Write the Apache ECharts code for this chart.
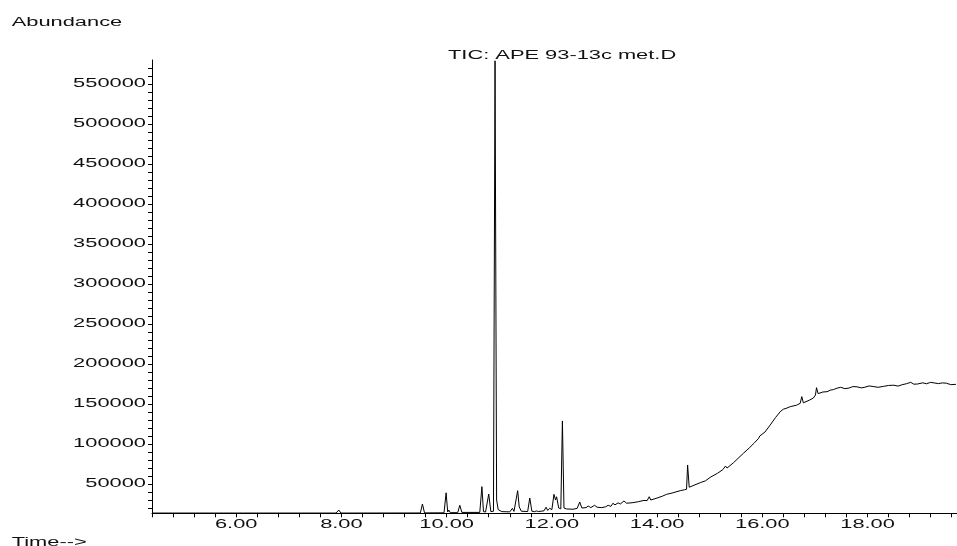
<!DOCTYPE html>
<html>
<head>
<meta charset="utf-8">
<title>TIC: APE 93-13c met.D</title>
<script src="https://cdn.jsdelivr.net/npm/echarts@6/dist/echarts.min.js"></script>
<style>
  html, body { margin: 0; padding: 0; background: #fff; }
  #chart { width: 957px; height: 546px; }
</style>
</head>
<body>
<div id="chart"></div>
<script>
// Total ion chromatogram: retention time (min) vs. abundance
const retentionTimes = [
  4.40, 7.90, 7.95, 7.99, 9.50, 9.54, 9.58, 9.95, 9.99, 10.02, 10.04, 10.07,
  10.21, 10.25, 10.29, 10.63, 10.67, 10.70, 10.74, 10.80, 10.84, 10.89, 10.92, 10.95,
  10.98, 11.05, 11.20, 11.25, 11.28, 11.35, 11.38, 11.42, 11.54, 11.58, 11.62, 11.67,
  11.71, 11.75, 11.85, 11.89, 11.92, 11.96, 12.00, 12.04, 12.07, 12.09, 12.13, 12.17,
  12.20, 12.23, 12.28, 12.40, 12.48, 12.53, 12.57, 12.65, 12.69, 12.74, 12.81, 12.86,
  12.95, 13.02, 13.07, 13.12, 13.16, 13.20, 13.26, 13.30, 13.37, 13.42, 13.54, 13.65,
  13.75, 13.81, 13.85, 13.88, 14.00, 14.10, 14.18, 14.30, 14.44, 14.52, 14.56, 14.58, 14.61,
  14.63, 14.82, 14.92, 15.01, 15.15, 15.25, 15.30, 15.33, 15.45, 15.52, 15.64, 15.75, 15.85,
  15.93, 15.95, 15.98, 16.05, 16.15, 16.25, 16.34, 16.40, 16.45, 16.53, 16.65, 16.72, 16.75,
  16.78, 16.90, 16.97, 17.01, 17.03, 17.06, 17.15, 17.23, 17.30, 17.35, 17.42, 17.49, 17.57, 17.65,
  17.72, 17.80, 17.88, 17.95, 18.03, 18.12, 18.20, 18.30, 18.40, 18.50, 18.58, 18.65, 18.74,
  18.82, 18.88, 18.95, 19.05, 19.12, 19.20, 19.28, 19.35, 19.42, 19.50, 19.58, 19.68
];
const abundance = [
  13700, 13700, 17500, 13700, 13800, 25000, 13900, 14000, 39000, 15000, 17500, 14200,
  14200, 23400, 14500, 14500, 46700, 15500, 15000, 37500, 15500, 16000, 579000, 30000,
  18000, 15500, 15200, 19600, 15800, 41700, 21300, 16000, 15600, 32500, 16000, 15500,
  16300, 15600, 16500, 21000, 17000, 19600, 18000, 37100, 30000, 34100, 20000, 19000,
  128800, 20000, 18800, 18500, 19500, 27500, 20000, 20500, 22500, 20500, 23400, 21000,
  20500, 21500, 23400, 22000, 25900, 24000, 26500, 25000, 28800, 26000, 26700, 28000,
  29500, 29200, 34100, 30000, 32500, 34800, 37100, 39000, 41700, 42800, 43400, 73800, 46000,
  45900, 51700, 54000, 58400, 63500, 68000, 72500, 70000, 76500, 80900, 88400, 95000, 101500,
  107100, 110000, 107800, 115000, 123800, 133000, 140400, 143500, 144500, 146700, 148500, 150900, 159200,
  151500, 155000, 157500, 161300, 170400, 163000, 165000, 165400, 167500, 168000, 169800, 170900, 169200, 170000,
  171800, 171500, 170200, 171000, 172600, 171700, 170900, 172000, 173200, 173500, 172400, 174000, 175400,
  177100, 174800, 175000, 176500, 175300, 177100, 176200, 175500, 176400, 176000, 174200, 174600
];

// Labelled ticks
const timeLabels = [6, 8, 10, 12, 14, 16, 18];
const abundanceLabels = [50000, 100000, 150000, 200000, 250000, 300000, 350000, 400000, 450000, 500000, 550000];

// Unlabelled tick marks: every 0.4 min and every 10000 counts
const timeTicks = [];
for (let i = 11; i <= 49; i++) timeTicks.push(+(i * 0.4).toFixed(1));
const abundanceTicks = [];
for (let v = 20000; v <= 570000; v += 10000) abundanceTicks.push(v);

const FONT = '"Liberation Sans", Arial, sans-serif';
const TEXT_STRETCH = 1.82;

const chart = echarts.init(document.getElementById('chart'), null, { renderer: 'canvas' });

chart.setOption({
  animation: false,
  backgroundColor: '#fff',
  grid: { left: 152, right: 0, top: 60, bottom: 32.7, containLabel: false },
  xAxis: {
    type: 'value',
    min: 4.4,
    max: 19.70,
    axisLine: { show: true, lineStyle: { color: '#000', width: 1 } },
    axisTick: { show: true, length: 4, customValues: timeTicks, lineStyle: { color: '#000' } },
    axisLabel: {
      customValues: timeLabels,
      margin: 5,
      color: '#111',
      fontFamily: FONT,
      fontSize: 12,
      formatter: v => v.toFixed(2)
    },
    splitLine: { show: false }
  },
  yAxis: {
    type: 'value',
    min: 13400,
    max: 580000,
    axisLine: { show: true, lineStyle: { color: '#000', width: 1 } },
    axisTick: { show: true, length: 4, customValues: abundanceTicks, lineStyle: { color: '#000' } },
    axisLabel: {
      customValues: abundanceLabels,
      margin: 6,
      color: '#111',
      fontFamily: FONT,
      fontSize: 12,
      formatter: v => String(v)
    },
    splitLine: { show: false }
  },
  graphic: [
    { type: 'text', x: 448, y: 50, style: { text: 'TIC: APE 93-13c met.D', fill: '#111', font: '12px ' + FONT, align: 'left', verticalAlign: 'top' } },
    { type: 'text', x: 11.7, y: 17, style: { text: 'Abundance', fill: '#111', font: '12px ' + FONT, align: 'left', verticalAlign: 'top' } },
    { type: 'text', x: 11.7, y: 536.5, style: { text: 'Time-->', fill: '#111', font: '12px ' + FONT, align: 'left', verticalAlign: 'top' } }
  ],
  series: [{
    type: 'line',
    data: retentionTimes.map((t, i) => [t, abundance[i]]),
    showSymbol: false,
    clip: true,
    lineStyle: { color: '#000', width: 1 },
    silent: true
  }]
});

// Widen every text glyph horizontally around its own anchor point
const zr = chart.getZr();
zr.storage.getRoots().forEach(root => {
  const visit = el => {
    if (el.type === 'text') {
      el.scaleX = TEXT_STRETCH;
      el.markRedraw();
    }
  };
  visit(root);
  if (root.traverse) root.traverse(visit);
});
zr.refreshImmediately();
</script>
</body>
</html>
